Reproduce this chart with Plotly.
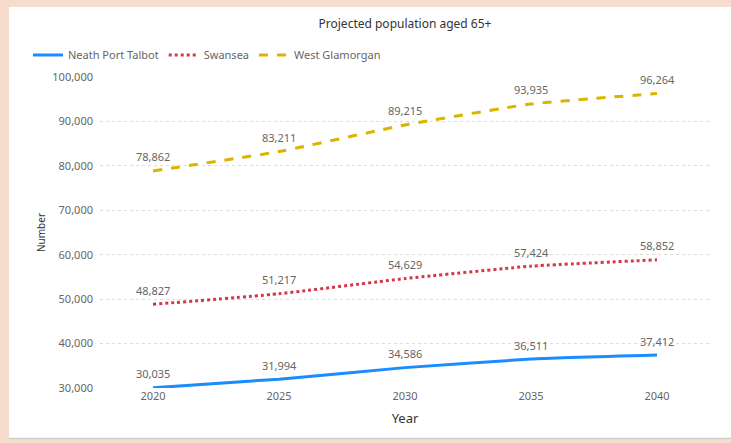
import plotly.graph_objects as go

years = [2020, 2025, 2030, 2035, 2040]
neath_port_talbot = [30035, 31994, 34586, 36511, 37412]
swansea = [48827, 51217, 54629, 57424, 58852]
west_glamorgan = [78862, 83211, 89215, 93935, 96264]
y_ticks = [30000, 40000, 50000, 60000, 70000, 80000, 90000, 100000]

W, H = 731, 443
L, R, T, B = 100, 21, 77, 55
pw, ph = W - L - R, H - T - B

def px_x(p):
    return (p - L) / pw

def px_y(p):
    return 1 - (p - T) / ph

series = [
    ("Neath Port Talbot", neath_port_talbot, "#1a8cff", "solid", 3),
    ("Swansea", swansea, "#d6364a", "dot", 3),
    ("West Glamorgan", west_glamorgan, "#dcb400", "dash", 3),
]

fig = go.Figure()
for name, vals, color, dash, w in series:
    fig.add_trace(go.Scatter(
        x=years, y=vals, name=name, mode="lines",
        line=dict(color=color, dash=dash, width=w, shape="spline", smoothing=0.4),
    ))
    for x, v in zip(years, vals):
        fig.add_annotation(x=x, y=v, text=f"{v:,}", showarrow=False,
                           yshift=14, font=dict(size=11, color="#666666", family="Noto Sans"))

fig.add_shape(type="rect", xref="paper", yref="paper", layer="below",
              x0=px_x(9), x1=px_x(W + 5), y0=px_y(438), y1=px_y(7),
              fillcolor="white", line=dict(width=0))
fig.add_shape(type="line", xref="paper", yref="paper", layer="below",
              x0=px_x(9), x1=px_x(W + 5), y0=px_y(438.5), y1=px_y(438.5),
              line=dict(color="#cfcfcf", width=1.5))

fig.update_layout(
    width=W, height=H,
    margin=dict(l=L, r=R, t=T, b=B),
    paper_bgcolor="#f5dccd",
    plot_bgcolor="rgba(0,0,0,0)",
    font=dict(family="Noto Sans", size=11, color="#666666"),
    title=dict(text="Projected population aged 65+", x=0.5, xref="paper",
               y=1 - 24 / H, yanchor="middle",
               font=dict(size=12, color="#333333", family="Noto Sans")),
    showlegend=True,
    legend=dict(orientation="h", x=px_x(28), y=px_y(55), xanchor="left", yanchor="middle",
                font=dict(size=11, color="#666666"), bgcolor="rgba(0,0,0,0)",
                itemwidth=30, tracegroupgap=0),
    xaxis=dict(range=[2020 - 53 / 25.2, 2040 + 53 / 25.2], tickvals=years,
               ticktext=[str(y) for y in years], showgrid=False, zeroline=False,
               showline=False, ticks="", tickfont=dict(size=11, color="#666666"),
               title=dict(text="Year", font=dict(size=13, color="#333333"), standoff=11)),
    yaxis=dict(range=[30000, 100000], tickvals=y_ticks, tickformat=",",
               showgrid=True, gridcolor="#dddddd", griddash="dot", gridwidth=1,
               zeroline=False, showline=False, ticks="", ticklabelstandoff=6,
               tickfont=dict(size=11, color="#666666"),
               title=dict(text="Number", font=dict(size=10, color="#333333"), standoff=4)),
)

fig.write_html("out.html")
